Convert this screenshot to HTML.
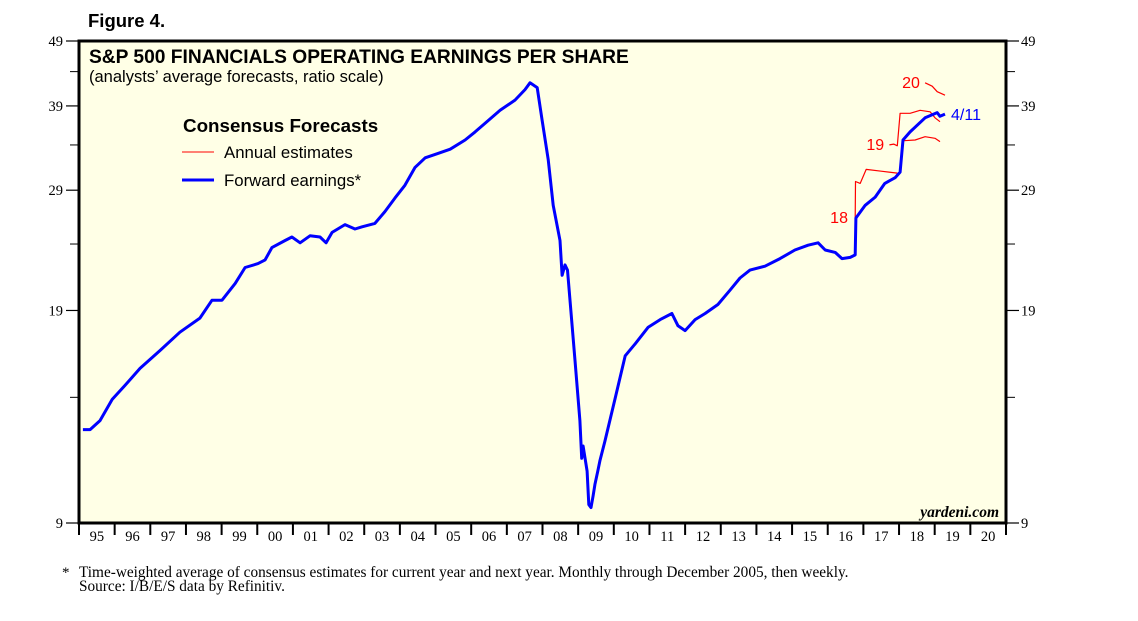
<!DOCTYPE html>
<html><head><meta charset="utf-8"><style>
html,body{margin:0;padding:0;background:#fff;}
svg{display:block;font-family:"Liberation Sans",sans-serif;}
</style></head><body>
<svg id="chart" width="1138" height="621" viewBox="0 0 1138 621">
<rect x="79" y="41" width="927" height="482" fill="#ffffe6"/>
<text x="88" y="27" font-size="18.5" font-weight="bold">Figure 4.</text>
<text x="89" y="63" font-size="19.2" font-weight="bold">S&amp;P 500 FINANCIALS OPERATING EARNINGS PER SHARE</text>
<text x="89" y="82" font-size="16.5">(analysts’ average forecasts, ratio scale)</text>
<text x="183" y="132" font-size="18.8" font-weight="bold">Consensus Forecasts</text>
<line x1="182" y1="152" x2="214" y2="152" stroke="#f00" stroke-width="1"/>
<text x="224" y="158" font-size="16.8">Annual estimates</text>
<line x1="182" y1="180" x2="214" y2="180" stroke="#00f" stroke-width="3"/>
<text x="224" y="186" font-size="16.8">Forward earnings*</text>
<g id="axes"></g>
<g id="series"></g>
<rect x="79" y="41" width="927" height="482" fill="none" stroke="#000" stroke-width="3"/>
<text x="999" y="517" font-size="15.5" font-weight="bold" font-style="italic" text-anchor="end" font-family="Liberation Serif, serif">yardeni.com</text>
<text x="62" y="577" font-size="15" font-family="Liberation Serif, serif">*</text>
<text x="79" y="577" font-size="15.3" font-family="Liberation Serif, serif">Time-weighted average of consensus estimates for current year and next year. Monthly through December 2005, then weekly.</text>
<text x="79" y="591" font-size="15.3" font-family="Liberation Serif, serif">Source: I/B/E/S data by Refinitiv.</text>
</svg>
<script>
const yTicks=[9,19,29,39,49];
const yMinor=[14,24,34,44];
const yearLabels=["95","96","97","98","99","00","01","02","03","04","05","06","07","08","09","10","11","12","13","14","15","16","17","18","19","20"];
const fwdDates=[1995.11,1995.31,1995.59,1995.93,1996.29,1996.71,1997.27,1997.83,1998.39,1998.73,1999.01,1999.38,1999.66,2000.02,2000.22,2000.41,2000.78,2000.97,2001.20,2001.48,2001.76,2001.93,2002.10,2002.46,2002.74,2002.94,2003.30,2003.58,2003.86,2004.14,2004.42,2004.71,2005.07,2005.41,2005.83,2006.11,2006.39,2006.81,2007.23,2007.51,2007.65,2007.85,2007.99,2008.16,2008.30,2008.49,2008.55,2008.63,2008.70,2008.77,2008.91,2009.05,2009.10,2009.14,2009.25,2009.30,2009.36,2009.42,2009.47,2009.55,2009.61,2009.75,2010.03,2010.32,2010.60,2010.96,2011.30,2011.63,2011.80,2012.00,2012.28,2012.56,2012.92,2013.26,2013.54,2013.82,2014.24,2014.66,2015.08,2015.45,2015.73,2015.93,2016.21,2016.40,2016.63,2016.77,2016.79,2017.05,2017.33,2017.60,2017.89,2018.03,2018.11,2018.31,2018.73,2019.07,2019.15,2019.29];
const fwdValues=[12.5,12.5,12.9,13.9,14.6,15.5,16.5,17.6,18.5,19.7,19.7,20.9,22.1,22.4,22.7,23.7,24.3,24.6,24.1,24.7,24.6,24.1,25.0,25.7,25.3,25.5,25.8,26.9,28.2,29.5,31.4,32.5,33.0,33.5,34.6,35.6,36.7,38.4,39.8,41.3,42.3,41.6,37.1,32.3,27.5,24.3,21.5,22.3,21.9,19.7,16.0,12.9,11.3,11.8,10.8,9.6,9.5,9.9,10.3,10.8,11.2,12.0,13.9,16.2,16.9,17.9,18.4,18.8,18.0,17.7,18.4,18.8,19.4,20.4,21.3,21.9,22.2,22.8,23.5,23.9,24.1,23.5,23.3,22.8,22.9,23.1,26.3,27.5,28.3,29.7,30.3,30.9,34.6,35.6,37.4,38.1,37.6,37.9];
const est18Dates=[2016.77,2016.78,2016.91,2017.08,2017.50,2017.95];
const est18Values=[26.3,29.9,29.7,31.2,31.0,30.8];
const est18bDates=[2018.08,2018.45,2018.73,2019.01,2019.15];
const est18bValues=[34.5,34.6,35.0,34.8,34.4];
const est19Dates=[2017.73,2017.85,2017.95,2018.03,2018.31,2018.59,2018.87,2019.01,2019.15];
const est19Values=[34.0,34.1,33.9,38.0,38.0,38.4,38.2,37.4,36.9];
const est20Dates=[2018.73,2018.93,2019.07,2019.29];
const est20Values=[42.3,41.8,41.0,40.5];

const NS="http://www.w3.org/2000/svg";
const X0=79,W=927,T=41,B=523;
function xs(d){return X0+(d-1995)*W/26;}
function ys(v){return T+(Math.log(49)-Math.log(v))/(Math.log(49)-Math.log(9))*(B-T);}
function mk(tag,attrs,parent){const e=document.createElementNS(NS,tag);for(const k in attrs)e.setAttribute(k,attrs[k]);parent.appendChild(e);return e;}
const axes=document.getElementById('axes');
const series=document.getElementById('series');
yTicks.forEach(v=>{
  const y=ys(v);
  let l=mk('line',{x1:66,x2:79,y1:y,y2:y,stroke:'#000','stroke-width':1.2},axes);
  
  
  let r=mk('line',{x1:1006,x2:1019,y1:y,y2:y,stroke:'#000','stroke-width':1.2},axes);
  
  
  let t=mk('text',{x:63,y:y+5,'font-size':14.5,'text-anchor':'end','font-family':'Liberation Serif, serif'},axes);
  t.textContent=v;
  
  
  let t2=mk('text',{x:1021,y:y+5,'font-size':14.5,'font-family':'Liberation Serif, serif'},axes);
  t2.textContent=v;
  
  
});
yMinor.forEach(v=>{
  const y=ys(v);
  let l=mk('line',{x1:70,x2:79,y1:y,y2:y,stroke:'#000','stroke-width':1},axes);
  
  
  let r=mk('line',{x1:1006,x2:1015,y1:y,y2:y,stroke:'#000','stroke-width':1},axes);
  
  
});
yearLabels.forEach((lab,i)=>{
  const xt=xs(1995+i);
  let l=mk('line',{x1:xt,x2:xt,y1:523,y2:535,stroke:'#000','stroke-width':2},axes);
  
  
  let t=mk('text',{x:xs(1995.5+i),y:541,'font-size':14.5,'text-anchor':'middle','font-family':'Liberation Serif, serif'},axes);
  t.textContent=lab;
  
  
});
let lt=mk('line',{x1:xs(2021),x2:xs(2021),y1:523,y2:535,stroke:'#000','stroke-width':2},axes);


function path(ds,vs,color,w,name){
  const d=ds.map((dd,i)=>(i?'L':'M')+xs(dd).toFixed(1)+','+ys(vs[i]).toFixed(1)).join('');
  const p=mk('path',{d:d,fill:'none',stroke:color,'stroke-width':w,'stroke-linejoin':'round'},series);
  
  
}
path(est18Dates,est18Values,'#f00',1.2,'annual-estimate-2018-line');
path(est18bDates,est18bValues,'#f00',1.2,'annual-estimate-2018-line-after');
path(est19Dates,est19Values,'#f00',1.2,'annual-estimate-2019-line');
path(est20Dates,est20Values,'#f00',1.2,'annual-estimate-2020-line');
path(fwdDates,fwdValues,'#00f',3,'forward-earnings-line');
function lab(txt,x,y,color,name){
  const t=mk('text',{x:x,y:y,'font-size':16,fill:color},series);
  t.textContent=txt;
  
  
}
lab('18',xs(2016.77)-25,ys(26.3)+5,'#f00','label-2018');
lab('19',xs(2017.73)-23,ys(34.0)+5,'#f00','label-2019');
lab('20',xs(2018.73)-23,ys(42.3)+5,'#f00','label-2020');
lab('4/11',xs(2019.29)+6,ys(37.9)+6,'#00f','label-latest-date');
</script>
</body></html>
